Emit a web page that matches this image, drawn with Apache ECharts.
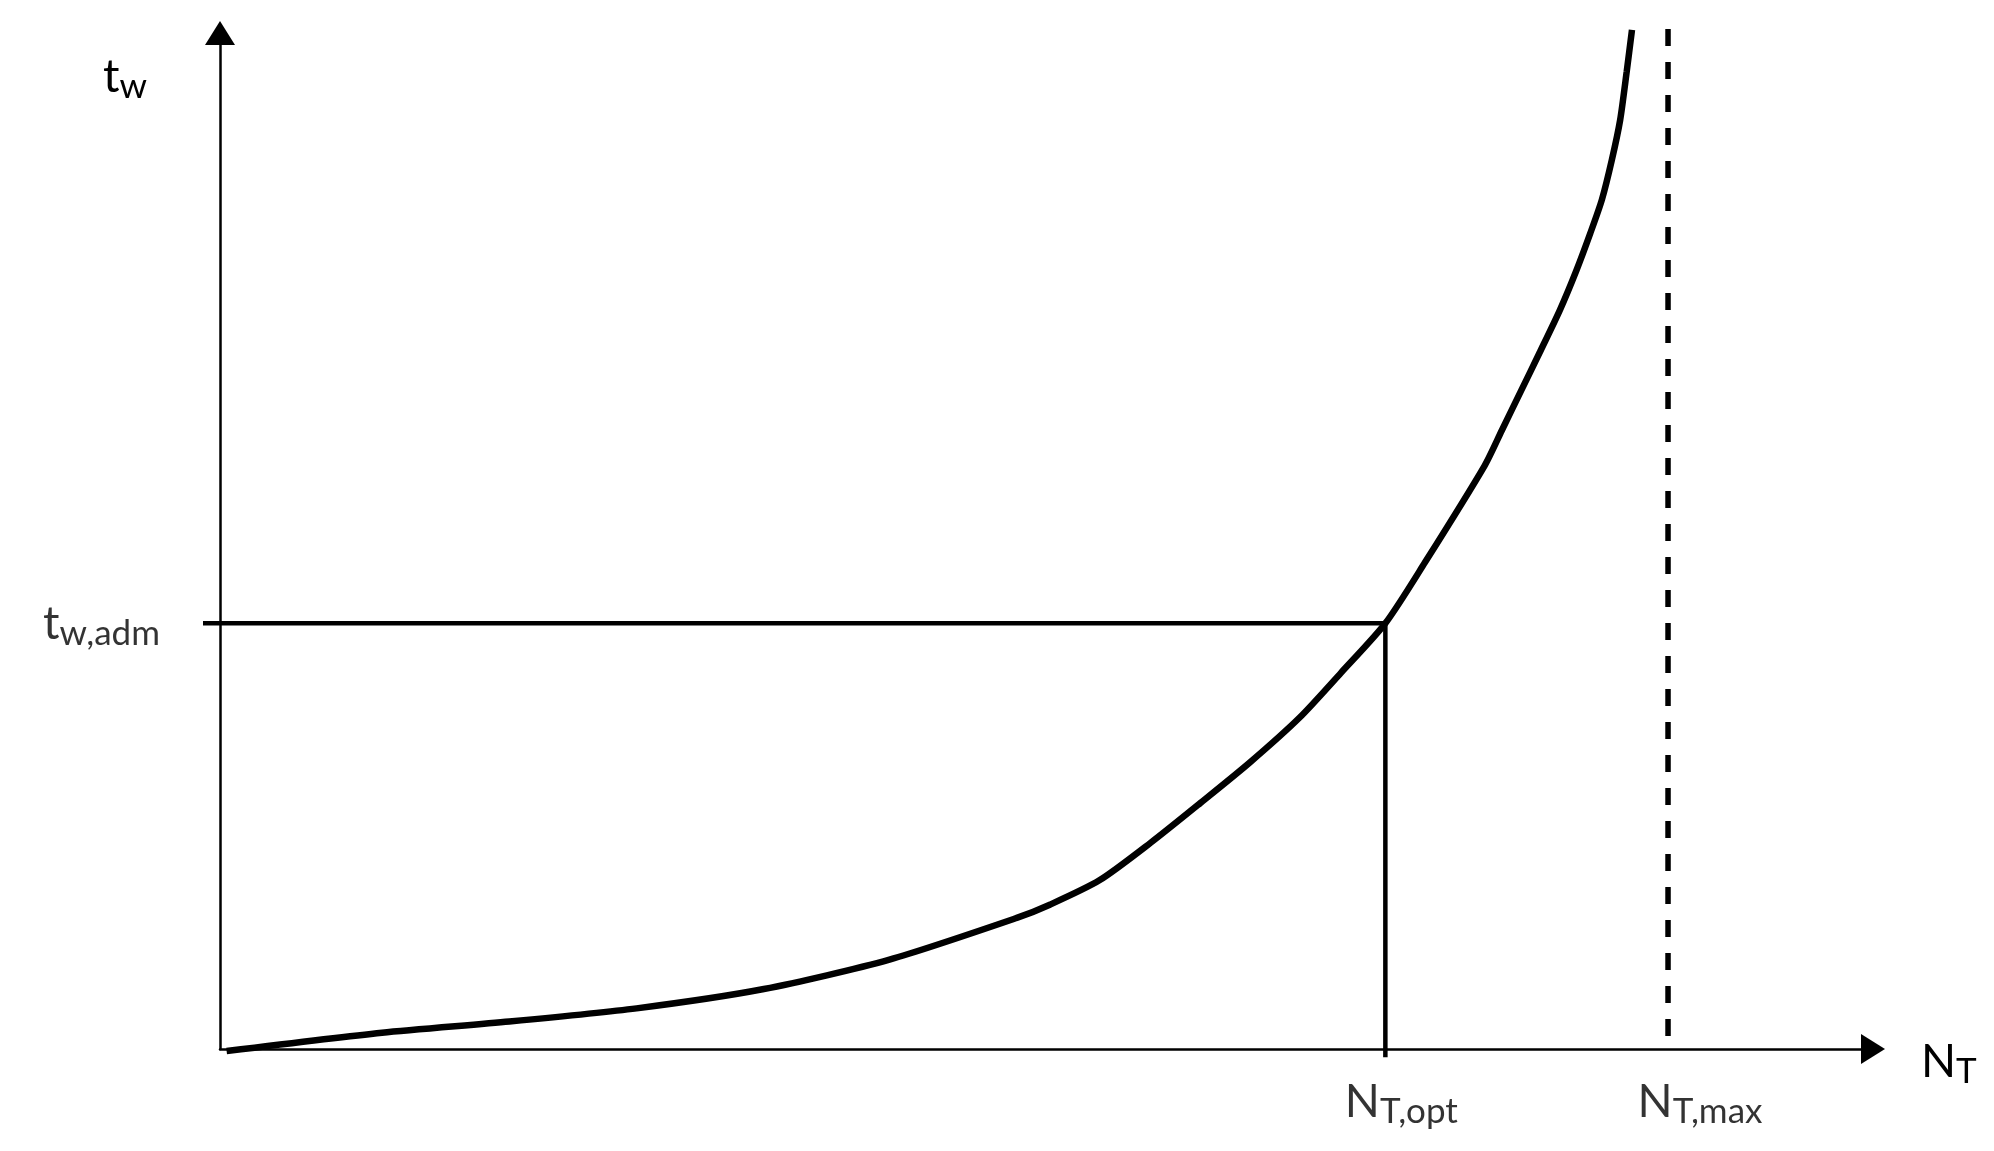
<!DOCTYPE html>
<html>
<head>
<meta charset="utf-8">
<script src="https://cdn.jsdelivr.net/npm/echarts@6/dist/echarts.min.js"></script>
<style>
  html, body { margin: 0; padding: 0; background: #fff; }
  #chart { width: 1994px; height: 1151px; }
</style>
</head>
<body>
<div id="chart"></div>
<script>
// curve t_w(N_T) (axis units 0..100)
const curveX = [0.4, 9.8, 17.5, 25.2, 32.9, 40.5, 48.2, 50.2, 53.2, 56.3, 59.3, 62.3, 65.3, 67.8, 70.5, 72.9, 76.5, 77.55, 78.7, 79.85, 81.05, 82.05, 82.9, 83.6, 84.2, 84.7, 85.1, 85.42];
const curveY = [-0.2, 1.6, 2.7, 4.0, 5.9, 8.8, 12.9, 14.2, 16.6, 20.3, 24.2, 28.2, 32.6, 37.0, 41.9, 47.9, 57.4, 60.9, 64.75, 68.6, 72.7, 76.6, 80.3, 83.6, 87.5, 91.4, 96.2, 100.3];
// reference levels
const twAdm = 41.9;
const ntOpt = 70.5;
const ntMax = 87.6;
const admLineX = [-1.03, ntOpt];
const optLineY = [twAdm, -0.8];
const maxLineY = [100.4, 0];

const font = "Lato";
const rich = {
  m: { fontSize: 46, fontFamily: font, color: "#000", lineHeight: 50, verticalAlign: "top" },
  s: { fontSize: 35, fontFamily: font, color: "#000", lineHeight: 35, verticalAlign: "bottom", padding: [22, 0, 0, 0] }
};

const myEcharts = echarts.init(document.getElementById("chart"));

const hiddenAxis = { show: false, axisLine: { show: false }, axisTick: { show: false }, axisLabel: { show: false }, splitLine: { show: false } };

let option = {
  backgroundColor: "#fff",
  animation: false,
  grid: [
    { left: 220, right: 121, top: 33, bottom: 102 },
    // same scale, shifted so the t_w,adm line can start left of the axis
    { left: 203, right: 121, top: 33, bottom: 102 }
  ],
  xAxis: [
    {
      type: "value",
      min: 0,
      max: 100,
      name: "{m|N}{s|T}",
      nameLocation: "end",
      nameGap: 48,
      nameTextStyle: { rich: rich, align: "left", verticalAlign: "middle", padding: [30, 0, 0, 0] },
      axisLine: {
        show: true,
        symbol: ["none", "triangle"],
        symbolSize: [30, 24],
        lineStyle: { color: "#000", width: 2.5 }
      },
      axisTick: { show: false },
      axisLabel: { show: false },
      splitLine: { show: false }
    },
    Object.assign({ type: "value", gridIndex: 1, min: -1.03, max: 100 }, hiddenAxis)
  ],
  yAxis: [
    {
      type: "value",
      min: 0,
      max: 100,
      name: "{m|t}{s|w}",
      nameLocation: "end",
      nameGap: -71,
      nameTextStyle: { rich: rich, align: "right", verticalAlign: "bottom", padding: [0, 73, 0, 0] },
      axisLine: {
        show: true,
        symbol: ["none", "triangle"],
        symbolSize: [30, 24],
        lineStyle: { color: "#000", width: 2.5 }
      },
      axisTick: { show: false },
      axisLabel: { show: false },
      splitLine: { show: false }
    },
    Object.assign({ type: "value", gridIndex: 1, min: 0, max: 100 }, hiddenAxis)
  ],
  series: [
    {
      name: "curve",
      type: "line",
      smooth: 0.25,
      clip: false,
      showSymbol: false,
      lineStyle: { color: "#000", width: 6.5 },
      data: curveX.map((x, i) => [x, curveY[i]])
    },
    {
      name: "adm",
      type: "line",
      xAxisIndex: 1,
      yAxisIndex: 1,
      clip: false,
      showSymbol: false,
      lineStyle: { color: "#000", width: 4.5 },
      data: admLineX.map(x => [x, twAdm])
    },
    {
      name: "opt",
      type: "line",
      clip: false,
      showSymbol: false,
      lineStyle: { color: "#000", width: 4.5 },
      data: optLineY.map(y => [ntOpt, y])
    },
    {
      name: "max",
      type: "line",
      clip: false,
      showSymbol: false,
      lineStyle: { color: "#000", width: 5.5, type: [17, 16] },
      data: maxLineY.map(y => [ntMax, y])
    },
    {
      // text labels only
      name: "labels",
      type: "scatter",
      xAxisIndex: 1,
      yAxisIndex: 1,
      clip: false,
      symbolSize: 0,
      silent: true,
      data: [
        { value: [admLineX[0], twAdm], label: { show: true, position: "left", distance: 43, formatter: "{m|t}{s|w,adm}", rich: rich, offset: [0, 3] } },
        { value: [ntOpt, 0], label: { show: true, position: "bottom", distance: 30, formatter: "{m|N}{s|T,opt}", rich: rich, offset: [16, 0] } },
        { value: [ntMax, 0], label: { show: true, position: "bottom", distance: 30, formatter: "{m|N}{s|T,max}", rich: rich, offset: [32, 0] } }
      ]
    }
  ]
};

myEcharts.setOption(option);
</script>
</body>
</html>
